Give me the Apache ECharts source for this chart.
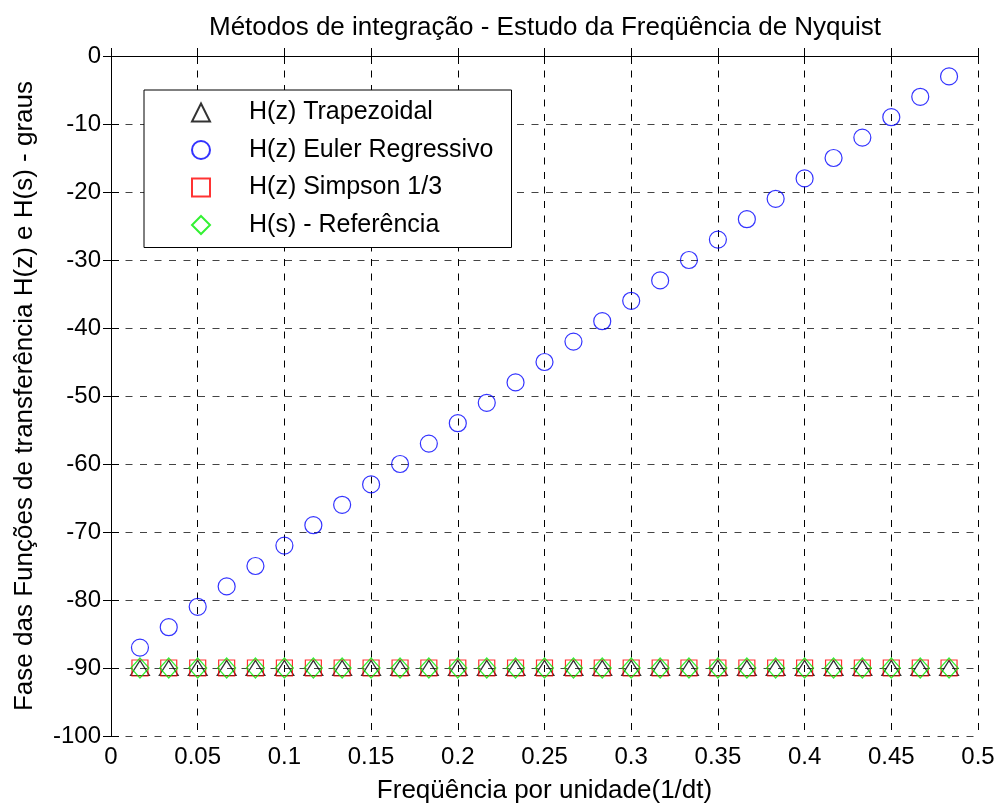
<!DOCTYPE html>
<html>
<head>
<meta charset="utf-8">
<script src="https://cdn.jsdelivr.net/npm/echarts@6/dist/echarts.min.js"></script>
<style>
  html, body { margin: 0; padding: 0; background: #fff; }
  #chart { width: 1000px; height: 809px; }
</style>
</head>
<body>
<div id="chart"></div>
<script>
// Normalized frequency samples (1/dt)
const freq = [
  0.0167, 0.0333, 0.0500, 0.0667, 0.0833, 0.1000, 0.1167, 0.1333, 0.1500, 0.1667,
  0.1833, 0.2000, 0.2167, 0.2333, 0.2500, 0.2667, 0.2833, 0.3000, 0.3167, 0.3333,
  0.3500, 0.3667, 0.3833, 0.4000, 0.4167, 0.4333, 0.4500, 0.4667, 0.4833
];

// Phase (degrees) of each transfer function
const phaseTrapezoidal = [
  -90, -90, -90, -90, -90, -90, -90, -90, -90, -90,
  -90, -90, -90, -90, -90, -90, -90, -90, -90, -90,
  -90, -90, -90, -90, -90, -90, -90, -90, -90
];
const phaseEuler = [
  -87, -84, -81, -78, -75, -72, -69, -66, -63, -60,
  -57, -54, -51, -48, -45, -42, -39, -36, -33, -30,
  -27, -24, -21, -18, -15, -12, -9, -6, -3
];
const phaseSimpson = [
  -90, -90, -90, -90, -90, -90, -90, -90, -90, -90,
  -90, -90, -90, -90, -90, -90, -90, -90, -90, -90,
  -90, -90, -90, -90, -90, -90, -90, -90, -90
];
const phaseReference = [
  -90, -90, -90, -90, -90, -90, -90, -90, -90, -90,
  -90, -90, -90, -90, -90, -90, -90, -90, -90, -90,
  -90, -90, -90, -90, -90, -90, -90, -90, -90
];

const seriesNames = [
  'H(z) Trapezoidal',
  'H(z) Euler Regressivo',
  'H(z) Simpson 1/3',
  'H(s) - Referência'
];

const titleText = 'Métodos de integração - Estudo da Freqüência de Nyquist';
const xName = 'Freqüência por unidade(1/dt)';
const yName = 'Fase das Funções de transferência H(z) e H(s) - graus';

const FONT = "'Liberation Sans', Arial, Helvetica, sans-serif";

function pairs(xs, ys) {
  return xs.map((x, i) => [x, ys[i]]);
}

const chart = echarts.init(document.getElementById('chart'), null, { renderer: 'canvas' });

const axisLine = { show: true, lineStyle: { color: '#000', width: 1 } };
const axisTick = { show: true, inside: true, length: 8, lineStyle: { color: '#000', width: 1 } };
const gridV = { show: true, lineStyle: { type: [7, 7.5], color: '#000', width: 1 } };
const gridH = { show: true, lineStyle: { type: [7, 7.5], color: '#444', width: 1 } };

function markerSeries(name, values, symbol, size, color) {
  return {
    name: name,
    type: 'scatter',
    data: pairs(freq, values),
    symbol: symbol,
    symbolSize: size,
    silent: true,
    itemStyle: { color: 'rgba(0,0,0,0)', borderColor: color, borderWidth: 1.2 }
  };
}

chart.setOption({
  animation: false,
  backgroundColor: '#fff',
  textStyle: { fontFamily: FONT },
  title: {
    text: titleText,
    left: 540,
    top: 10,
    textAlign: 'center',
    textStyle: { fontFamily: FONT, fontSize: 26, fontWeight: 'normal', color: '#000' }
  },
  grid: { left: 111, right: 22, top: 56, bottom: 70, containLabel: false },
  legend: {
    orient: 'vertical',
    left: 144,
    top: 90,
    padding: [10, 18, 10, 47],
    itemWidth: 18,
    itemHeight: 18,
    itemGap: 12.5,
    backgroundColor: '#fff',
    borderColor: '#000',
    borderWidth: 1,
    selectedMode: false,
    textStyle: { fontFamily: FONT, fontSize: 25, color: '#000', padding: [0, 0, 0, 34] },
    data: seriesNames
  },
  xAxis: [
    {
      type: 'value', min: 0, max: 0.5, interval: 0.05, position: 'bottom',
      name: xName, nameLocation: 'middle', nameGap: 42,
      nameTextStyle: { fontFamily: FONT, fontSize: 26, color: '#000' },
      axisLine: axisLine, axisTick: axisTick,
      axisLabel: { fontFamily: FONT, fontSize: 24, color: '#000', margin: 9 },
      splitLine: gridV
    },
    {
      type: 'value', min: 0, max: 0.5, interval: 0.05, position: 'top',
      axisLine: axisLine, axisTick: axisTick,
      axisLabel: { show: false }, splitLine: { show: false }
    }
  ],
  yAxis: [
    {
      type: 'value', min: -100, max: 0, interval: 10, position: 'left',
      name: yName, nameLocation: 'middle', nameGap: 73, nameRotate: 90,
      nameTextStyle: { fontFamily: FONT, fontSize: 26, color: '#000' },
      axisLine: axisLine, axisTick: axisTick,
      axisLabel: { fontFamily: FONT, fontSize: 24, color: '#000', margin: 10 },
      splitLine: gridH
    },
    {
      type: 'value', min: -100, max: 0, interval: 10, position: 'right',
      axisLine: axisLine, axisTick: axisTick,
      axisLabel: { show: false }, splitLine: { show: false }
    }
  ],
  series: [
    markerSeries(seriesNames[0], phaseTrapezoidal, 'triangle', [19, 15], '#000'),
    markerSeries(seriesNames[1], phaseEuler, 'circle', 17, '#0000ff'),
    markerSeries(seriesNames[2], phaseSimpson, 'rect', 16, '#ff0000'),
    markerSeries(seriesNames[3], phaseReference, 'diamond', [18, 20], '#00ee00')
  ]
});
</script>
</body>
</html>
